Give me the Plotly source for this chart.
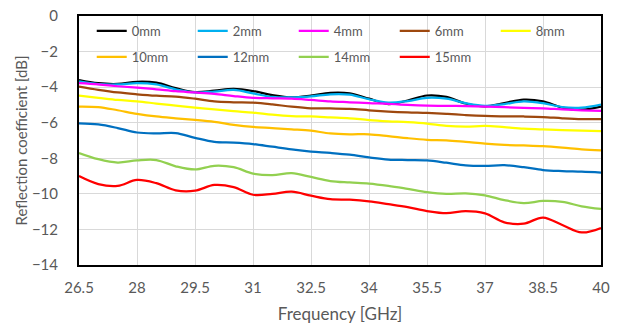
import plotly.graph_objects as go

freq = [26.5, 27, 27.5, 28, 28.5, 29, 29.5, 30, 30.5, 31, 31.5, 32, 32.5, 33,
        33.5, 34, 34.5, 35, 35.5, 36, 36.5, 37, 37.5, 38, 38.5, 39, 39.5, 40]

mm0 = [-3.6, -3.78, -3.82, -3.7, -3.75, -4.05, -4.28, -4.2, -4.1, -4.22, -4.45, -4.58, -4.48, -4.32,
       -4.35, -4.65, -4.95, -4.75, -4.47, -4.55, -4.92, -5.08, -4.9, -4.7, -4.8, -5.15, -5.27, -5.1]
mm2 = [-3.68, -3.83, -3.85, -3.78, -3.85, -4.12, -4.3, -4.25, -4.16, -4.35, -4.55, -4.58, -4.52, -4.4,
       -4.42, -4.68, -4.87, -4.78, -4.6, -4.65, -4.9, -5.05, -4.95, -4.8, -4.9, -5.12, -5.15, -4.98]
mm4 = [-3.78, -3.85, -3.95, -4.03, -4.12, -4.23, -4.3, -4.38, -4.5, -4.6, -4.63, -4.65, -4.72, -4.8,
       -4.85, -4.9, -4.94, -5.0, -5.04, -5.05, -5.07, -5.09, -5.13, -5.17, -5.19, -5.25, -5.3, -5.34]
mm6 = [-3.97, -4.15, -4.3, -4.4, -4.48, -4.53, -4.65, -4.8, -4.85, -4.87, -4.97, -5.1, -5.19, -5.2,
       -5.22, -5.3, -5.37, -5.42, -5.45, -5.5, -5.57, -5.62, -5.64, -5.65, -5.68, -5.75, -5.8, -5.8]
mm8 = [-4.48, -4.6, -4.72, -4.8, -4.92, -5.04, -5.15, -5.25, -5.35, -5.43, -5.55, -5.63, -5.65, -5.7,
       -5.75, -5.85, -5.92, -5.97, -6.05, -6.18, -6.22, -6.18, -6.25, -6.33, -6.37, -6.42, -6.45, -6.47]
mm10 = [-5.09, -5.12, -5.3, -5.5, -5.65, -5.75, -5.84, -5.95, -6.12, -6.24, -6.3, -6.37, -6.45, -6.6,
        -6.65, -6.65, -6.75, -6.87, -6.96, -6.99, -7.08, -7.18, -7.25, -7.28, -7.32, -7.4, -7.5, -7.55]
mm12 = [-6.03, -6.1, -6.3, -6.55, -6.6, -6.58, -6.85, -7.08, -7.12, -7.2, -7.35, -7.5, -7.62, -7.7,
        -7.8, -7.95, -8.07, -8.1, -8.12, -8.25, -8.4, -8.43, -8.39, -8.5, -8.66, -8.72, -8.75, -8.8]
mm14 = [-7.7, -8.05, -8.24, -8.12, -8.1, -8.45, -8.63, -8.42, -8.5, -8.86, -8.95, -8.84, -9.05, -9.28,
        -9.36, -9.42, -9.55, -9.72, -9.9, -10.0, -9.97, -10.08, -10.35, -10.52, -10.4, -10.45, -10.7, -10.85]
mm15 = [-9.0, -9.45, -9.55, -9.22, -9.4, -9.8, -9.82, -9.5, -9.62, -10.05, -10.0, -9.88, -10.1, -10.3,
        -10.33, -10.42, -10.58, -10.75, -10.97, -11.09, -10.97, -11.1, -11.6, -11.68, -11.33, -11.75, -12.17, -11.92]

names = ["0mm", "2mm", "4mm", "6mm", "8mm", "10mm", "12mm", "14mm", "15mm"]
series = [mm0, mm2, mm4, mm6, mm8, mm10, mm12, mm14, mm15]
colors = ["#000000", "#00B0F0", "#FF00FF", "#9E480E", "#FFFF00",
          "#FFC000", "#0070C0", "#92D050", "#FF0000"]

fig = go.Figure()
for i, (n, s, c) in enumerate(zip(names, series, colors)):
    fig.add_trace(go.Scatter(x=freq, y=s, name=n, mode="lines",
                             legend="legend" if i < 5 else "legend2",
                             line=dict(color=c, width=2.25, shape="spline", smoothing=1)))

font_family = "Lato, 'Open Sans', sans-serif"
leg_common = dict(orientation="h", xanchor="left", yanchor="middle",
                  bgcolor="rgba(0,0,0,0)",
                  font=dict(family=font_family, size=13, color="#595959"),
                  entrywidth=56, entrywidthmode="pixels", itemwidth=30, tracegroupgap=0)
fig.update_layout(
    width=624, height=327,
    margin=dict(l=79, r=23, t=16, b=62, autoexpand=False),
    paper_bgcolor="white", plot_bgcolor="white",
    font=dict(family=font_family, color="#595959", size=15),
    showlegend=True,
    legend=dict(x=0.0244, y=0.9398, **leg_common),
    legend2=dict(x=0.0244, y=0.8353, **leg_common),
    shapes=[dict(type="rect", xref="paper", yref="paper", x0=0.0096, x1=0.996,
                 y0=0.791, y1=0.988, fillcolor="white", line=dict(width=0), layer="between")],
)
fig.update_xaxes(range=[26.5, 40], tick0=26.5, dtick=1.5, showgrid=True, gridcolor="#D9D9D9",
                 gridwidth=1, showline=True, linecolor="black", linewidth=2, mirror=True,
                 ticks="", zeroline=False, ticklabelstandoff=8, automargin=False,
                 title=dict(text="Frequency [GHz]", standoff=13,
                            font=dict(family=font_family, size=17, color="#595959")),
                 tickfont=dict(family=font_family, size=15, color="#595959"))
fig.update_yaxes(range=[-14, 0], dtick=2, showgrid=True, gridcolor="#D9D9D9",
                 gridwidth=1, showline=True, linecolor="black", linewidth=2, mirror=True,
                 ticks="", zeroline=False, ticklabelstandoff=16, automargin=False,
                 title=dict(text="Reflection coefficient [dB]", standoff=1,
                            font=dict(family=font_family, size=15, color="#595959")),
                 tickfont=dict(family=font_family, size=15, color="#595959"))

fig.write_html("out.html")
